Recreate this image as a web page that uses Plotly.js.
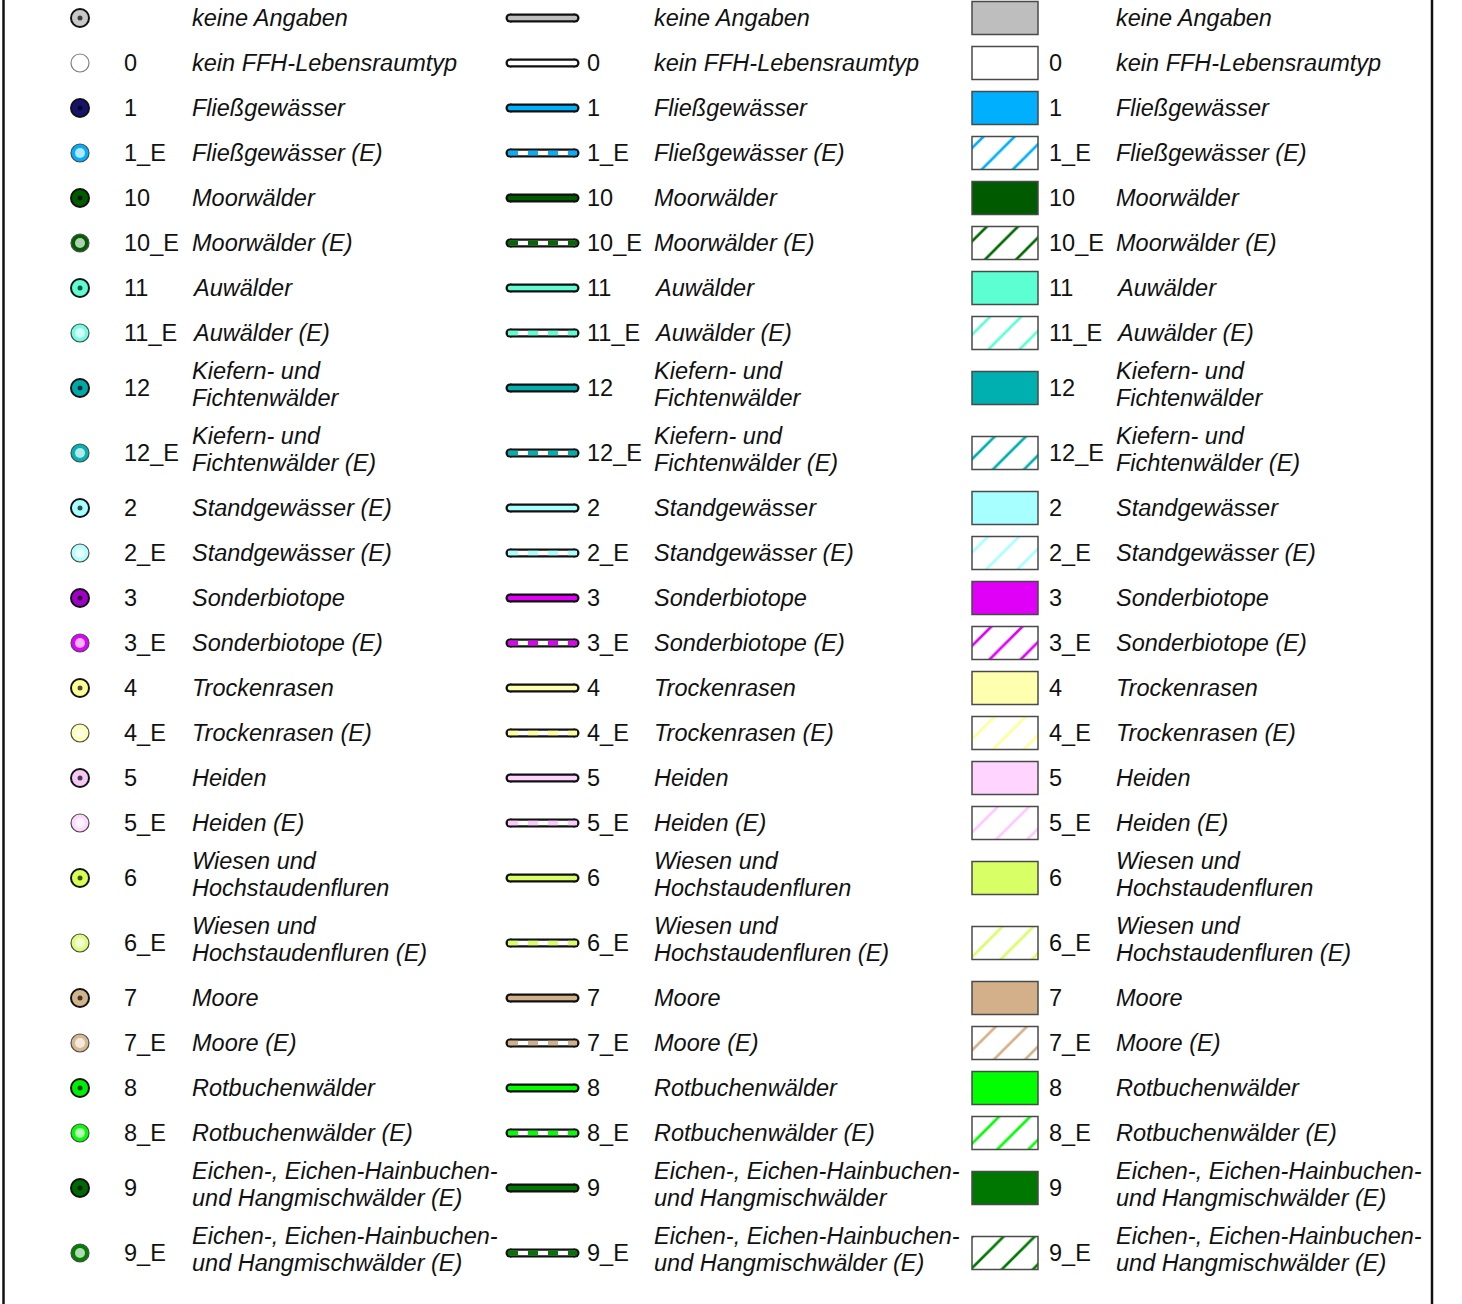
<!DOCTYPE html>
<html><head><meta charset="utf-8">
<script src="https://cdn.plot.ly/plotly-3.0.1.min.js"></script>
<style>html,body{margin:0;padding:0;background:#fff}</style>
</head><body><div id="chart" style="width:1462px;height:1304px"></div>
<script>
// ---- data ----
const codes = ['', '0', '1', '1_E', '10', '10_E', '11', '11_E', '12', '12_E', '2', '2_E', '3', '3_E', '4', '4_E', '5', '5_E', '6', '6_E', '7', '7_E', '8', '8_E', '9', '9_E'];

const labelsPoint = ['keine Angaben', 'kein FFH-Lebensraumtyp', 'Fließgewässer', 'Fließgewässer (E)', 'Moorwälder', 'Moorwälder (E)', 'Auwälder', 'Auwälder (E)',
  'Kiefern- und<br>Fichtenwälder', 'Kiefern- und<br>Fichtenwälder (E)', 'Standgewässer (E)', 'Standgewässer (E)', 'Sonderbiotope', 'Sonderbiotope (E)',
  'Trockenrasen', 'Trockenrasen (E)', 'Heiden', 'Heiden (E)', 'Wiesen und<br>Hochstaudenfluren', 'Wiesen und<br>Hochstaudenfluren (E)', 'Moore', 'Moore (E)',
  'Rotbuchenwälder', 'Rotbuchenwälder (E)', 'Eichen-, Eichen-Hainbuchen-<br>und Hangmischwälder (E)', 'Eichen-, Eichen-Hainbuchen-<br>und Hangmischwälder (E)'];

const labelsLine = ['keine Angaben', 'kein FFH-Lebensraumtyp', 'Fließgewässer', 'Fließgewässer (E)', 'Moorwälder', 'Moorwälder (E)', 'Auwälder', 'Auwälder (E)',
  'Kiefern- und<br>Fichtenwälder', 'Kiefern- und<br>Fichtenwälder (E)', 'Standgewässer', 'Standgewässer (E)', 'Sonderbiotope', 'Sonderbiotope (E)',
  'Trockenrasen', 'Trockenrasen (E)', 'Heiden', 'Heiden (E)', 'Wiesen und<br>Hochstaudenfluren', 'Wiesen und<br>Hochstaudenfluren (E)', 'Moore', 'Moore (E)',
  'Rotbuchenwälder', 'Rotbuchenwälder (E)', 'Eichen-, Eichen-Hainbuchen-<br>und Hangmischwälder', 'Eichen-, Eichen-Hainbuchen-<br>und Hangmischwälder (E)'];

const labelsFill = ['keine Angaben', 'kein FFH-Lebensraumtyp', 'Fließgewässer', 'Fließgewässer (E)', 'Moorwälder', 'Moorwälder (E)', 'Auwälder', 'Auwälder (E)',
  'Kiefern- und<br>Fichtenwälder', 'Kiefern- und<br>Fichtenwälder (E)', 'Standgewässer', 'Standgewässer (E)', 'Sonderbiotope', 'Sonderbiotope (E)',
  'Trockenrasen', 'Trockenrasen (E)', 'Heiden', 'Heiden (E)', 'Wiesen und<br>Hochstaudenfluren', 'Wiesen und<br>Hochstaudenfluren (E)', 'Moore', 'Moore (E)',
  'Rotbuchenwälder', 'Rotbuchenwälder (E)', 'Eichen-, Eichen-Hainbuchen-<br>und Hangmischwälder (E)', 'Eichen-, Eichen-Hainbuchen-<br>und Hangmischwälder (E)'];

const fillColors = ['#bebebe', '#ffffff', '#00b0ff', '#00b0ff', '#005a00', '#006a00', '#5cffd2', '#5cffd2', '#00b0b0', '#00b0b0',
  '#a8ffff', '#a8ffff', '#e000f8', '#e000f8', '#ffffb0', '#ffff99', '#ffd4ff', '#ffc8ff', '#d8ff66', '#d8ff66',
  '#d4b08a', '#d4b08a', '#00ff00', '#00ff00', '#007800', '#007800'];

const pointColors = ['#c8c8c8', '#ffffff', '#14146e', '#00b0ff', '#005a00', '#006000', '#5cffd2', '#70ffe0', '#00a8a8', '#00b4b4',
  '#a8ffff', '#b0ffff', '#a000c8', '#e000ff', '#ffff99', '#ffffb0', '#f5c8f5', '#ffd8ff', '#d8ff55', '#dcff77',
  '#d2b48c', '#d8b890', '#00ee00', '#00ff00', '#006800', '#008000'];

// ---- layout helpers ----
const nLines = labelsPoint.map(l => l.split('<br>').length);
const rowY = [];
nLines.forEach((n, i) => {
  if (i === 0) rowY.push(18);
  else rowY.push(rowY[i - 1] + 45 + (nLines[i - 1] > 1 ? 10 : 0) + (n > 1 ? 10 : 0));
});
const isE = codes.map(c => c.endsWith('_E'));
const isPlain = codes.map(c => c === '0');

const FONT = 'Liberation Sans, Arial, Helvetica, sans-serif';
const COL = {
  point: {x: 80, code: 123, label: 191},
  line: {x0: 510, x1: 575, code: 586, label: 653},
  fill: {x0: 972, x1: 1038, code: 1048, label: 1115}
};

const traces = [];

// Column 1: circle markers
traces.push({
  type: 'scatter', mode: 'markers', x: rowY.map(() => COL.point.x), y: rowY, hoverinfo: 'skip',
  marker: {symbol: 'circle', size: 18, color: pointColors,
    line: {color: codes.map((c, i) => isE[i] ? '#4a4a4a' : (isPlain[i] ? '#808080' : '#111')),
           width: codes.map((c, i) => isE[i] || isPlain[i] ? 1.2 : 2)}}
});
const innerIdx = codes.map((c, i) => i).filter(i => !isPlain[i]);
traces.push({
  type: 'scatter', mode: 'markers', x: innerIdx.map(() => COL.point.x), y: innerIdx.map(i => rowY[i]), hoverinfo: 'skip',
  marker: {symbol: 'circle', size: innerIdx.map(i => isE[i] ? 10 : 5), color: innerIdx.map(i => isE[i] ? '#ffffff' : '#000000'), line: {width: 0}}
});

// Column 2: line symbols
const segX = [], segY = [];
rowY.forEach(y => { segX.push(COL.line.x0, COL.line.x1, null); segY.push(y, y, null); });
traces.push({type: 'scatter', mode: 'lines+markers', x: segX, y: segY, hoverinfo: 'skip',
  line: {color: '#111', width: 9}, marker: {size: 9, color: '#111', line: {width: 0}}});
const eX = [], eY = [];
rowY.forEach((y, i) => { if (isE[i]) { eX.push(COL.line.x0, COL.line.x1, null); eY.push(y, y, null); } });
traces.push({type: 'scatter', mode: 'lines+markers', x: eX, y: eY, hoverinfo: 'skip',
  line: {color: '#fff', width: 4.5}, marker: {size: 4.5, color: '#fff', line: {width: 0}}});
rowY.forEach((y, i) => {
  if (isE[i]) {
    traces.push({type: 'scatter', mode: 'lines', x: [COL.line.x0 - 2, COL.line.x1 + 2], y: [y, y], hoverinfo: 'skip',
      line: {color: fillColors[i], width: 4.5, dash: '10px,10px'}});
  } else {
    traces.push({type: 'scatter', mode: 'lines+markers', x: [COL.line.x0, COL.line.x1], y: [y, y], hoverinfo: 'skip',
      line: {color: fillColors[i], width: 4.5}, marker: {size: 4.5, color: fillColors[i], line: {width: 0}}});
  }
});

// Column 3: filled rectangles (solid) and hatched rectangles (E)
const solidIdx = codes.map((c, i) => i).filter(i => !isE[i]);
const hatchIdx = codes.map((c, i) => i).filter(i => isE[i]);
traces.push({
  type: 'bar', orientation: 'h', y: solidIdx.map(i => rowY[i]), x: solidIdx.map(() => COL.fill.x1 - COL.fill.x0),
  base: COL.fill.x0, width: 33, hoverinfo: 'skip',
  marker: {color: solidIdx.map(i => fillColors[i]), line: {color: '#4a4a4a', width: 1.5}}
});
hatchIdx.forEach(i => {
  traces.push({
    type: 'bar', orientation: 'h', y: [rowY[i]], x: [COL.fill.x1 - COL.fill.x0], base: COL.fill.x0, width: 33, hoverinfo: 'skip',
    marker: {color: '#ffffff', line: {color: '#4a4a4a', width: 1.5},
      pattern: {shape: '/', fgcolor: fillColors[i], fgopacity: 1, bgcolor: '#ffffff', size: 22, solidity: 0.12, fillmode: 'overlay'}}
  });
});

// Text annotations
const annotations = [];
function addText(x, y, text, italic) {
  annotations.push({x: x, y: y, xref: 'x', yref: 'y', text: text, showarrow: false, xanchor: 'left', yanchor: 'middle',
    borderpad: 0, font: {family: FONT, size: 23.5, color: '#111', style: italic ? 'italic' : 'normal'}});
}
function addLabel(x, i, label) {
  const parts = label.split('<br>');
  if (parts.length === 1) addText(x, rowY[i], parts[0], true);
  else parts.forEach((p, k) => addText(x, rowY[i] - 4 + (k - 0.5) * 27, p, true));
}
rowY.forEach((y, i) => {
  if (codes[i]) {
    addText(COL.point.code, y, codes[i], false);
    addText(COL.line.code, y, codes[i], false);
    addText(COL.fill.code, y, codes[i], false);
  }
  addLabel(COL.point.label, i, labelsPoint[i]);
  addLabel(COL.line.label, i, labelsLine[i]);
  addLabel(COL.fill.label, i, labelsFill[i]);
});

const layout = {
  width: 1462, height: 1304, margin: {l: 0, r: 0, t: 0, b: 0, pad: 0},
  paper_bgcolor: '#ffffff', plot_bgcolor: '#ffffff', showlegend: false, barmode: 'overlay',
  xaxis: {range: [0, 1462], visible: false, fixedrange: true},
  yaxis: {range: [1304, 0], visible: false, fixedrange: true},
  shapes: [
    {type: 'line', xref: 'x', yref: 'paper', x0: 3.5, x1: 3.5, y0: 0, y1: 1, line: {color: '#111', width: 2.5}},
    {type: 'line', xref: 'x', yref: 'paper', x0: 1432, x1: 1432, y0: 0, y1: 1, line: {color: '#111', width: 2.5}}
  ],
  annotations: annotations
};

Plotly.newPlot('chart', traces, layout, {staticPlot: true, displayModeBar: false});
</script>
</body></html>
